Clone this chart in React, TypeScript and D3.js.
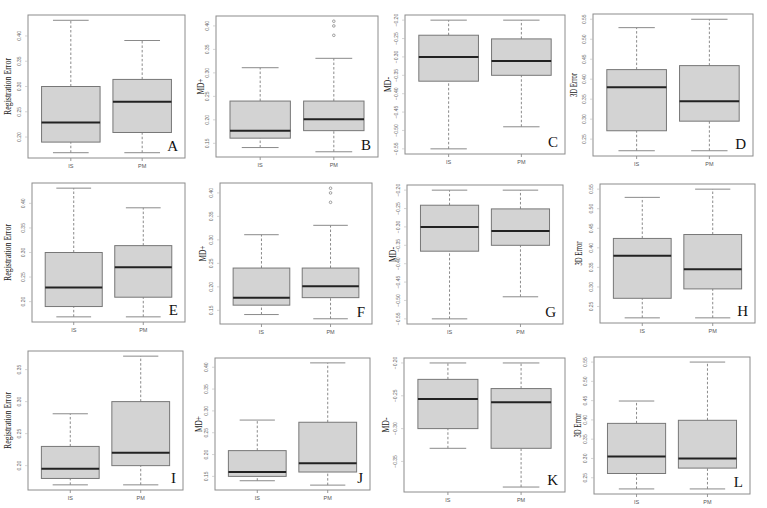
import React from 'react';
import * as d3 from 'd3';

// box stats are [lower whisker, q1, median, q3, upper whisker]
const groups = ['IS', 'PM'];

const regErrIS = [0.169, 0.19, 0.229, 0.30, 0.431];
const regErrPM = [0.169, 0.209, 0.27, 0.314, 0.391];
const mdPlusIS = [0.141, 0.161, 0.177, 0.24, 0.311];
const mdPlusPM = [0.132, 0.177, 0.201, 0.24, 0.331];
const mdPlusPMOut = [0.38, 0.40, 0.41];
const mdMinusIS = [-0.55, -0.366, -0.30, -0.241, -0.20];
const mdMinusPM = [-0.49, -0.35, -0.311, -0.251, -0.20];
const err3dIS = [0.221, 0.271, 0.38, 0.424, 0.529];
const err3dPM = [0.221, 0.295, 0.345, 0.434, 0.55];

const regErrIS3 = [0.17, 0.18, 0.195, 0.23, 0.281];
const regErrPM3 = [0.17, 0.20, 0.22, 0.30, 0.371];
const mdPlusIS3 = [0.14, 0.15, 0.16, 0.209, 0.279];
const mdPlusPM3 = [0.13, 0.16, 0.18, 0.274, 0.41];
const mdMinusIS3 = [-0.33, -0.30, -0.255, -0.225, -0.20];
const mdMinusPM3 = [-0.389, -0.33, -0.26, -0.239, -0.20];
const err3dIS3 = [0.221, 0.261, 0.305, 0.391, 0.449];
const err3dPM3 = [0.221, 0.275, 0.30, 0.399, 0.55];

const regTicks = [0.20, 0.25, 0.30, 0.35, 0.40];
const mdPlusTicks = [0.15, 0.20, 0.25, 0.30, 0.35, 0.40];
const mdMinusTicks = [-0.55, -0.50, -0.45, -0.40, -0.35, -0.30, -0.25, -0.20];
const err3dTicks = [0.25, 0.30, 0.35, 0.40, 0.45, 0.50, 0.55];
const regTicks3 = [0.20, 0.25, 0.30, 0.35];
const mdMinusTicks3 = [-0.35, -0.30, -0.25, -0.20];

const titles = ['Registration Error', 'MD+', 'MD-', '3D Error'];
const titleLen = [57, 16, 15, 24];

type Panel = {
  letter: string;
  col: number;
  frame: number[]; // x0, y0, x1, y1
  titleX: number;
  stats: number[][];
  outliers: number[][];
  ticks: number[];
};

const panels: Panel[] = [
  { letter: 'A', col: 0, frame: [28, 15, 185, 158], titleX: 7, stats: [regErrIS, regErrPM], outliers: [[], []], ticks: regTicks },
  { letter: 'B', col: 1, frame: [216, 16, 378, 157], titleX: 200, stats: [mdPlusIS, mdPlusPM], outliers: [[], mdPlusPMOut], ticks: mdPlusTicks },
  { letter: 'C', col: 2, frame: [405, 15, 565, 154], titleX: 387, stats: [mdMinusIS, mdMinusPM], outliers: [[], []], ticks: mdMinusTicks },
  { letter: 'D', col: 3, frame: [593, 14, 753, 156], titleX: 573, stats: [err3dIS, err3dPM], outliers: [[], []], ticks: err3dTicks },
  { letter: 'E', col: 0, frame: [32, 183, 185, 322], titleX: 7, stats: [regErrIS, regErrPM], outliers: [[], []], ticks: regTicks },
  { letter: 'F', col: 1, frame: [220, 183, 372, 324], titleX: 202, stats: [mdPlusIS, mdPlusPM], outliers: [[], mdPlusPMOut], ticks: mdPlusTicks },
  { letter: 'G', col: 2, frame: [407, 185, 563, 324], titleX: 392, stats: [mdMinusIS, mdMinusPM], outliers: [[], []], ticks: mdMinusTicks },
  { letter: 'H', col: 3, frame: [600, 184, 755, 323], titleX: 578, stats: [err3dIS, err3dPM], outliers: [[], []], ticks: err3dTicks },
  { letter: 'I', col: 0, frame: [28, 351, 183, 490], titleX: 7, stats: [regErrIS3, regErrPM3], outliers: [[], []], ticks: regTicks3 },
  { letter: 'J', col: 1, frame: [215, 358, 370, 490], titleX: 198, stats: [mdPlusIS3, mdPlusPM3], outliers: [[], []], ticks: mdPlusTicks },
  { letter: 'K', col: 2, frame: [404, 358, 565, 492], titleX: 385, stats: [mdMinusIS3, mdMinusPM3], outliers: [[], []], ticks: mdMinusTicks3 },
  { letter: 'L', col: 3, frame: [594, 357, 750, 494], titleX: 577, stats: [err3dIS3, err3dPM3], outliers: [[], []], ticks: err3dTicks },
];

const BOX_W = 0.82;
const CAP_W = 0.5;

const BoxPanel = ({ p }: { p: Panel }) => {
  const [x0, y0, x1, y1] = p.frame;
  const all = p.stats.flat().concat(p.outliers.flat());
  const [lo, hi] = d3.extent(all) as [number, number];
  const pad = (hi - lo) * 0.04;
  const y = d3.scaleLinear().domain([lo - pad, hi + pad]).range([y1, y0]);
  const x = d3.scaleLinear().domain([0.4, 2.6]).range([x0, x1]);
  const bw = x(BOX_W) - x(0);
  const cw = x(CAP_W) - x(0);
  const midY = (y0 + y1) / 2;

  return (
    <g>
      {p.stats.map((s, i) => {
        const cx = x(i + 1);
        return (
          <g key={i}>
            <line x1={cx} x2={cx} y1={y(s[0])} y2={y(s[1])} stroke="#8a8a8a" strokeDasharray="2.5,2" />
            <line x1={cx} x2={cx} y1={y(s[3])} y2={y(s[4])} stroke="#8a8a8a" strokeDasharray="2.5,2" />
            <line x1={cx - cw / 2} x2={cx + cw / 2} y1={y(s[0])} y2={y(s[0])} stroke="#8a8a8a" />
            <line x1={cx - cw / 2} x2={cx + cw / 2} y1={y(s[4])} y2={y(s[4])} stroke="#8a8a8a" />
            <rect x={cx - bw / 2} width={bw} y={y(s[3])} height={y(s[1]) - y(s[3])}
              fill="#d3d3d3" stroke="#777" strokeWidth={1} />
            <line x1={cx - bw / 2} x2={cx + bw / 2} y1={y(s[2])} y2={y(s[2])} stroke="#222" strokeWidth={2} />
            {p.outliers[i].map((o, j) => (
              <circle key={j} cx={cx} cy={y(o)} r={1.3} fill="none" stroke="#888" strokeWidth={0.8} />
            ))}
            <line x1={cx} x2={cx} y1={y1} y2={y1 + 3} stroke="#999" />
            <text x={cx} y={y1 + 10} fontSize={5.5} fill="#555" textAnchor="middle"
              fontFamily="Liberation Sans, Arial, sans-serif">{groups[i]}</text>
          </g>
        );
      })}
      <rect x={x0} y={y0} width={x1 - x0} height={y1 - y0} fill="none" stroke="#8c8c8c" strokeWidth={1} />
      {p.ticks.map((t) => (
        <g key={t}>
          <line x1={x0 - 3} x2={x0} y1={y(t)} y2={y(t)} stroke="#bbb" strokeWidth={0.6} />
          <text transform={`translate(${x0 - 9},${y(t)}) rotate(-90)`} fontSize={5} fill="#666"
            textAnchor="middle" dominantBaseline="central"
            fontFamily="Liberation Sans, Arial, sans-serif">{d3.format('.2f')(t)}</text>
        </g>
      ))}
      <text transform={`translate(${p.titleX},${midY}) rotate(-90)`} fontSize={10} fill="#222"
        textAnchor="middle" dominantBaseline="central" textLength={titleLen[p.col]}
        lengthAdjust="spacingAndGlyphs" fontFamily="Liberation Serif, Times New Roman, serif">
        {titles[p.col]}
      </text>
      <text x={x1 - 7} y={y1 - 7} fontSize={15} fill="#111" textAnchor="end"
        fontFamily="Liberation Serif, Times New Roman, serif">{p.letter}</text>
    </g>
  );
};

export default function App() {
  return (
    <svg width={767} height={508} style={{ position: 'absolute', left: 0, top: 0, background: '#fff' }}>
      {panels.map((p) => <BoxPanel key={p.letter} p={p} />)}
    </svg>
  );
}
